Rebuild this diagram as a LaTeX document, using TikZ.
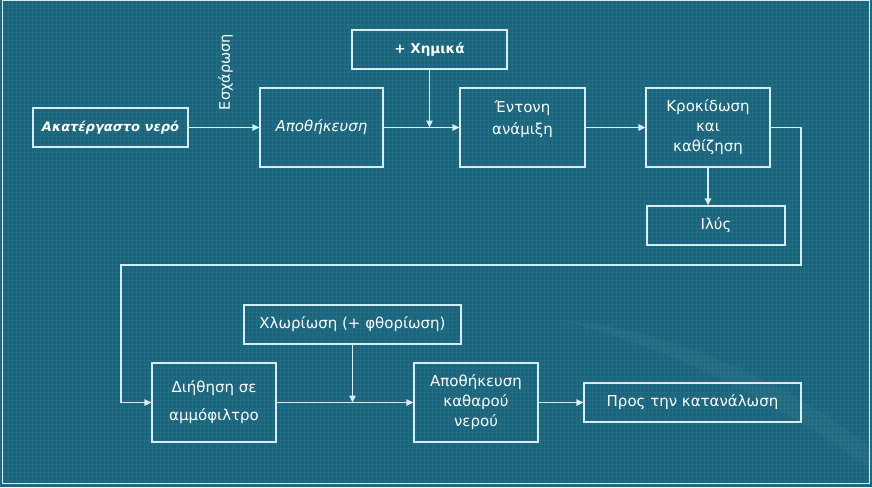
\documentclass[tikz,border=0pt]{standalone}
\usepackage{fontspec}
\setmainfont{DejaVu Sans}
\usetikzlibrary{arrows.meta}
\definecolor{bg}{RGB}{24,101,126}
\definecolor{ln}{RGB}{214,238,242}
\begin{document}
\begin{tikzpicture}[x=1pt,y=-1pt,
  box/.style={draw=ln, line width=1.3pt, text=white, align=center, inner sep=0pt,
    font=\fontsize{15}{20}\selectfont},
  con/.style={draw=ln, line width=1.3pt, -{Triangle[length=7pt,width=6.5pt]}},
  ]
\fill[bg] (0,0) rectangle (872,487);
\useasboundingbox (0,0) rectangle (872,487);
% faint grid
\draw[white, opacity=0.05, line width=0.4pt, step=4pt] (0,0) grid (872,487);
% faint swoosh
\fill[white, opacity=0.035] (560,320) .. controls (680,330) and (800,390) .. (872,450)
  -- (872,470) .. controls (790,410) and (680,350) .. (560,320) -- cycle;
% frame
\draw[ln, line width=1pt] (2,1) rectangle (869,483);

% nodes
\node[box, minimum width=155pt, minimum height=39pt, font=\fontsize{13}{18}\selectfont\bfseries\itshape] (raw) at (110.5,127.5) {Ακατέργαστο νερό};
\node[box, minimum width=123pt, minimum height=79pt, font=\fontsize{15}{20}\selectfont\itshape] (stor) at (321.5,127.5) {Αποθήκευση};
\node[box, minimum width=155pt, minimum height=39pt, font=\fontsize{13.5}{18}\selectfont\bfseries] (chem) at (429.5,49.5) {+ Χημικά};
\node[box, minimum width=125pt, minimum height=79pt] (mix) at (522.5,127.5) {Έντονη\\[2pt]ανάμιξη\\\mbox{}};
\node[box, minimum width=124pt, minimum height=79pt] (floc) at (708,127.5) {Κροκίδωση\\και\\καθίζηση};
\node[box, minimum width=138pt, minimum height=39pt] (sludge) at (716,225.5) {Ιλύς};
\node[box, minimum width=124pt, minimum height=79pt] (filt) at (214,402.5) {Διήθηση σε\\[8pt]αμμόφιλτρο};
\node[box, minimum width=217pt, minimum height=39pt] (chl) at (352.5,324.5) {Χλωρίωση (+ φθορίωση)};
\node[box, minimum width=124pt, minimum height=79pt] (clean) at (476,402.5) {Αποθήκευση\\καθαρού\\νερού};
\node[box, minimum width=217pt, minimum height=39pt] (cons) at (692.5,402.5) {Προς την κατανάλωση};
\node[text=white, rotate=90, font=\fontsize{14.5}{16}\selectfont, inner sep=0pt] (esch) at (225.5,72) {Εσχάρωση};

% junction coordinates
\coordinate (m1) at (429.5,127.5);
\coordinate (m2) at (352.5,402.5);
\coordinate (l1) at (801,127.5);
\coordinate (l2) at (801,265);
\coordinate (l3) at (121,265);
\coordinate (l4) at (121,402.5);

% connectors
\draw[con] (raw.east) -- (stor.west);
\draw[con] (stor.east) -- (mix.west);
\draw[con] (chem.south) -- (m1);
\draw[con] (mix.east) -- (floc.west);
\draw[con] (floc.south) -- (sludge.north -| floc.south);
\draw[con] (floc.east) -- (l1) -- (l2) -- (l3) -- (l4) -- (filt.west);
\draw[con] (chl.south) -- (m2);
\draw[con] (filt.east) -- (clean.west);
\draw[con] (clean.east) -- (cons.west);
\end{tikzpicture}
\end{document}
